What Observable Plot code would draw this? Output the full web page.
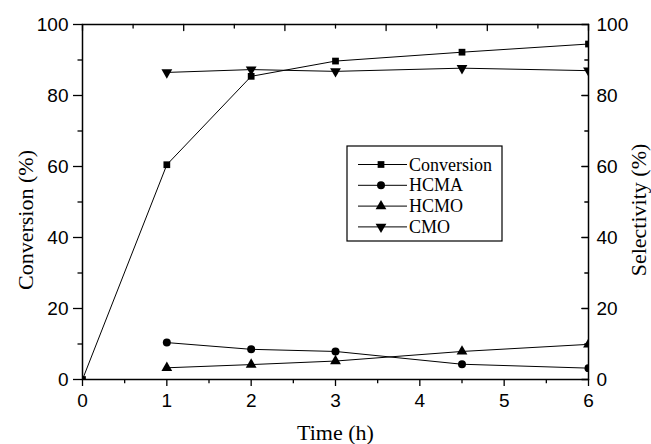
<!DOCTYPE html>
<html>
<head>
<meta charset="utf-8">
<script src="https://cdn.jsdelivr.net/npm/d3@7"></script>
<script src="https://cdn.jsdelivr.net/npm/@observablehq/plot@0.6"></script>
<style>
  html, body { margin: 0; padding: 0; background: #fff; }
  #chart { position: relative; width: 651px; height: 444px; }
  #chart svg { position: absolute; left: 0; top: 0; }
</style>
</head>
<body>
<div id="chart"></div>
<script>
// ---- data ----
const convTime = [0, 1, 2, 3, 4.5, 6];
const conversion = [0, 60.5, 85.4, 89.7, 92.2, 94.5];
const selTime = [1, 2, 3, 4.5, 6];
const hcma = [10.4, 8.5, 7.9, 4.3, 3.2];
const hcmo = [3.3, 4.2, 5.2, 7.9, 9.9];
const cmo = [86.5, 87.3, 86.8, 87.7, 87.0];

const seriesNames = ["Conversion", "HCMA", "HCMO", "CMO"];
const xMajor = [0, 1, 2, 3, 4, 5, 6];
const xMinor = [0.5, 1.5, 2.5, 3.5, 4.5, 5.5];
const yMajor = [0, 20, 40, 60, 80, 100];
const yMinor = [10, 30, 50, 70, 90];
const topMajor = [0, 1.2, 2.4, 3.6, 4.8, 6];
const topMinor = [0.6, 1.8, 3.0, 4.2, 5.4];

const symbols = { Conversion: "square", HCMA: "circle", HCMO: "triangle", CMO: "triangle" };
const rotations = { Conversion: 0, HCMA: 0, HCMO: 0, CMO: 180 };
const radii = { Conversion: 3.8, HCMA: 4, HCMO: 4, CMO: 4 };

const rows = [
  ...convTime.map((t, i) => ({ series: "Conversion", t, v: conversion[i] })),
  ...selTime.map((t, i) => ({ series: "HCMA", t, v: hcma[i] })),
  ...selTime.map((t, i) => ({ series: "HCMO", t, v: hcmo[i] })),
  ...selTime.map((t, i) => ({ series: "CMO", t, v: cmo[i] }))
];

const tickShape = { draw(context, l) { context.moveTo(0, 0); context.lineTo(0, -l); } };
const serif = "'Liberation Serif', 'Times New Roman', serif";

const marks = [];
for (const s of seriesNames) {
  const d = rows.filter(r => r.series === s);
  marks.push(Plot.line(d, { x: "t", y: "v", stroke: "black", strokeWidth: 1, clip: true }));
  marks.push(Plot.dot(d, { x: "t", y: "v", symbol: symbols[s], r: radii[s], rotate: rotations[s], fill: "black", stroke: "none", clip: true }));
}

const plot = Plot.plot({
  width: 651,
  height: 444,
  marginLeft: 82,
  marginRight: 63,
  marginTop: 24,
  marginBottom: 65,
  style: { background: "white", color: "black", fontFamily: "'Liberation Sans', Arial, sans-serif", fontSize: "19px" },
  x: { domain: [0, 6] },
  y: { domain: [0, 100] },
  marks: [
    ...marks,
    Plot.frame({ stroke: "black", strokeWidth: 1.5 }),
    // bottom axis
    Plot.axisX({ ticks: xMajor, tickSize: 7, tickPadding: 7, tickFormat: d => String(d), label: null, strokeWidth: 1.3 }),
    Plot.axisX({ ticks: xMinor, tickSize: 4.3, tickFormat: () => "", label: null, strokeWidth: 1.3 }),
    // left axis
    Plot.axisY({ ticks: yMajor, tickSize: 9, tickPadding: 5, label: null, strokeWidth: 1.3 }),
    Plot.axisY({ ticks: yMinor, tickSize: 4.5, tickFormat: () => "", label: null, strokeWidth: 1.3 }),
    // right axis: labels, inward ticks
    Plot.axisY({ anchor: "right", ticks: yMajor, tickSize: 0, tickPadding: 8, label: null }),
    Plot.vectorY(yMajor, { y: d => d, frameAnchor: "right", rotate: 270, length: 6.7, anchor: "start", shape: tickShape, stroke: "black", strokeWidth: 1.3 }),
    Plot.vectorY(yMinor, { y: d => d, frameAnchor: "right", rotate: 270, length: 3.7, anchor: "start", shape: tickShape, stroke: "black", strokeWidth: 1.3 }),
    // top axis: inward ticks only
    Plot.vectorX(topMajor, { x: d => d, frameAnchor: "top", rotate: 180, length: 6, anchor: "start", shape: tickShape, stroke: "black", strokeWidth: 1.3 }),
    Plot.vectorX(topMinor, { x: d => d, frameAnchor: "top", rotate: 180, length: 3.5, anchor: "start", shape: tickShape, stroke: "black", strokeWidth: 1.3 }),
    // axis titles
    Plot.text(["Time (h)"], { frameAnchor: "bottom", dy: 53, lineAnchor: "middle", text: d => d, fontFamily: serif, fontSize: 22, fill: "black" }),
    Plot.text(["Conversion (%)"], { frameAnchor: "left", textAnchor: "middle", lineAnchor: "middle", rotate: -90, dx: -57, dy: 18, text: d => d, fontFamily: serif, fontSize: 22, fill: "black" }),
    Plot.text(["Selectivity (%)"], { frameAnchor: "right", textAnchor: "middle", lineAnchor: "middle", rotate: -90, dx: 50, dy: 8, text: d => d, fontFamily: serif, fontSize: 22, fill: "black" })
  ]
});

const chart = document.getElementById("chart");
chart.appendChild(plot);

// ---- legend overlay ----
const lg = d3.select(chart).append("svg")
  .attr("width", 651).attr("height", 444)
  .style("pointer-events", "none");
lg.append("rect")
  .attr("x", 347).attr("y", 146).attr("width", 155).attr("height", 95)
  .attr("fill", "white").attr("stroke", "black").attr("stroke-width", 1.2);
const symMap = { square: d3.symbolSquare, circle: d3.symbolCircle, triangle: d3.symbolTriangle };
seriesNames.forEach((s, i) => {
  const y = 164.5 + i * 20.8;
  const g = lg.append("g");
  g.append("line").attr("x1", 358).attr("x2", 407).attr("y1", y).attr("y2", y)
    .attr("stroke", "black").attr("stroke-width", 1);
  g.append("path")
    .attr("d", d3.symbol(symMap[symbols[s]], Math.PI * radii[s] * radii[s])())
    .attr("transform", `translate(381,${y}) rotate(${rotations[s]})`)
    .attr("fill", "black");
  g.append("text").attr("x", 409).attr("y", y).attr("dy", "0.34em")
    .attr("font-family", serif).attr("font-size", 18).attr("fill", "black")
    .text(s);
});
</script>
</body>
</html>
